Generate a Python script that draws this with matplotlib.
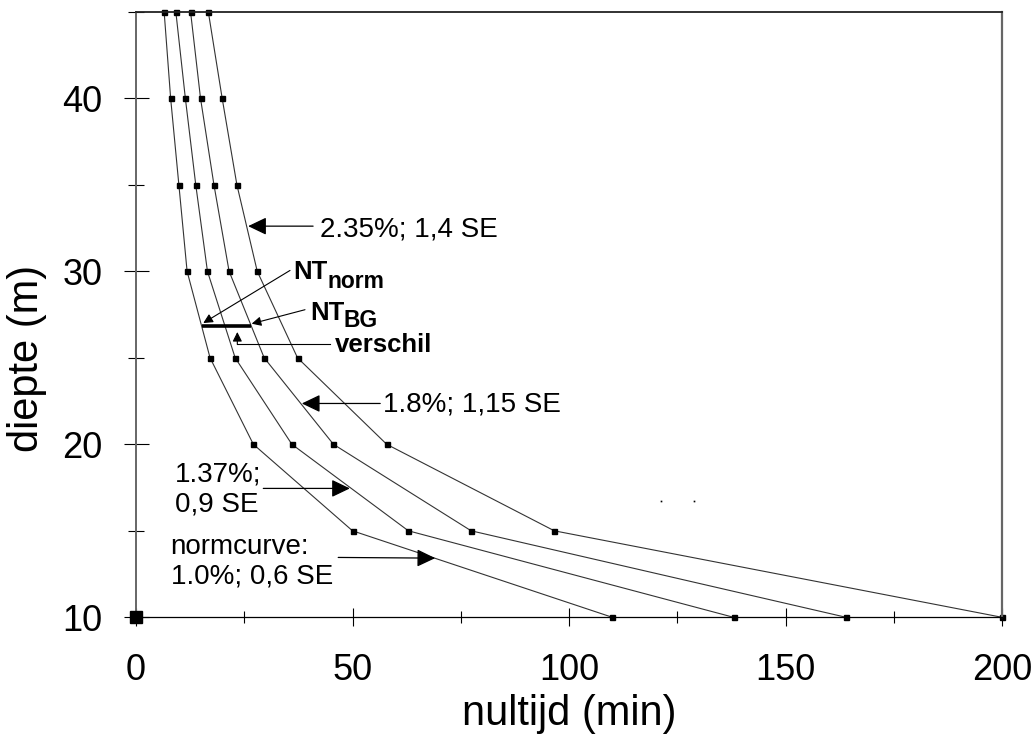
import numpy as np
import matplotlib
matplotlib.use("Agg")
import matplotlib.pyplot as plt

plt.rcParams['font.family'] = ['Liberation Sans', 'DejaVu Sans']

# ---- data ----
depths = [10, 15, 20, 25, 30, 35, 40, 45]
norm_1_0 = [110.0, 50.0, 27.1, 17.1, 11.8, 9.9, 8.0, 6.5]      # normcurve 1.0%; 0,6 SE
curve_1_37 = [138.0, 62.9, 36.0, 22.9, 16.5, 13.8, 11.4, 9.2]   # 1.37%; 0,9 SE
curve_1_8 = [164.0, 77.4, 45.6, 29.6, 21.5, 18.0, 14.9, 12.6]   # 1.8%; 1,15 SE
curve_2_35 = [200.0, 96.6, 57.9, 37.3, 28.0, 23.3, 19.9, 16.7]  # 2.35%; 1,4 SE
origin_x, origin_y = [0], [10]
stray_x, stray_y = [121.3, 128.8], [16.7, 16.7]
verschil_depth = 26.85

x_major = [0, 50, 100, 150, 200]
x_minor = [25, 75, 125, 175]
y_major = [10, 20, 30, 40]
y_minor = [15, 25, 35, 45]

fig = plt.figure(figsize=(10.32, 7.36), dpi=100)
ax = fig.add_axes([136/1032, 1-617.3/736, 866/1032, 605.5/736])

line_kw = dict(color='#333333', lw=0.8, marker='s', ms=3.6, mfc='black', mec='black', clip_on=False)
for xs in (norm_1_0, curve_1_37, curve_1_8, curve_2_35):
    ax.plot(xs, depths, **line_kw)

ax.plot(origin_x, origin_y, 's', color='black', ms=9, clip_on=False, zorder=5)
ax.plot(stray_x, stray_y, 's', color='black', ms=1.2, mew=0)

# verschil bar between normcurve and 1.8% curve
x_left = np.interp(verschil_depth, depths, norm_1_0)
x_right = np.interp(verschil_depth, depths, curve_1_8)
ax.plot([x_left, x_right], [verschil_depth, verschil_depth], color='black', lw=2.6, solid_capstyle='butt')

ax.set_xlim(0, 200)
ax.set_ylim(10, 45)
ax.set_xticks(x_major)
ax.set_xticks(x_minor, minor=True)
ax.set_yticks(y_major)
ax.set_yticks(y_minor, minor=True)
ax.tick_params(axis='x', which='major', direction='inout', length=13, width=0.8, pad=19, labelsize=26)
ax.tick_params(axis='x', which='minor', direction='inout', length=8.5, width=0.8)
ax.tick_params(axis='y', which='major', direction='inout', length=18, width=0.8, pad=15, labelsize=26)
ax.tick_params(axis='y', which='minor', direction='inout', length=12, width=0.8)

ax.spines['left'].set_color('#666666')
ax.spines['left'].set_linewidth(1.4)
ax.spines['right'].set_color('#666666')
ax.spines['right'].set_linewidth(1.6)
ax.spines['top'].set_color('#222222')
ax.spines['top'].set_linewidth(1.3)
ax.spines['bottom'].set_color('black')
ax.spines['bottom'].set_linewidth(0.9)

ax.set_xlabel('nultijd (min)', fontsize=30)
ax.xaxis.label.set_va('baseline')
ax.xaxis.set_label_coords(0.5, -0.1779)
ax.set_ylabel('diepte (m)', fontsize=30)
ax.yaxis.label.set_va('center')
ax.yaxis.set_label_coords(-0.1259, 0.4274)

big_arrow = dict(arrowstyle='-|>,head_length=0.94,head_width=0.45', color='black', lw=0.9, mutation_scale=12,
                 shrinkA=0, shrinkB=0)
small_arrow = dict(arrowstyle='-|>,head_length=0.7,head_width=0.35', color='black', lw=0.8, mutation_scale=8,
                   shrinkA=0, shrinkB=0)

fs = 20
# 2.35%
ax.annotate('', xy=(25.9, 32.61), xytext=(40.9, 32.61), arrowprops=big_arrow)
ax.text(42.5, 32.01, '2.35%; 1,4 SE', fontsize=fs, va='baseline', ha='left')
# 1.8%
ax.annotate('', xy=(38.3, 22.36), xytext=(56.4, 22.36), arrowprops=big_arrow)
ax.text(57.1, 21.87, '1.8%; 1,15 SE', fontsize=fs, va='baseline', ha='left')
# 1.37%
ax.annotate('', xy=(49.4, 17.45), xytext=(29.4, 17.45), arrowprops=big_arrow)
ax.text(9.0, 16.10, '1.37%;\n0,9 SE', fontsize=fs, va='baseline', ha='left', linespacing=1.2)
# normcurve
ax.annotate('', xy=(69.1, 13.42), xytext=(46.7, 13.46), arrowprops=big_arrow)
ax.text(8.0, 11.96, 'normcurve:\n1.0%; 0,6 SE', fontsize=fs, va='baseline', ha='left', linespacing=1.15)

# NT_norm
ax.annotate('', xy=(15.54, 27.01), xytext=(35.57, 30.05), arrowprops=small_arrow)
ax.text(36.3, 29.53, 'NT', fontsize=18.5, fontweight='bold', va='baseline', ha='left')
ax.text(44.2, 29.05, 'norm', fontsize=16.5, fontweight='bold', va='baseline', ha='left')
# NT_BG
ax.annotate('', xy=(26.72, 26.97), xytext=(39.03, 27.78), arrowprops=small_arrow)
ax.text(40.18, 27.21, 'NT', fontsize=18.5, fontweight='bold', va='baseline', ha='left')
ax.text(48.0, 26.78, 'BG', fontsize=16.5, fontweight='bold', va='baseline', ha='left')
# verschil
ax.plot([44.8, 23.4], [25.78, 25.78], color='black', lw=0.8)
ax.annotate('', xy=(23.4, 26.49), xytext=(23.4, 25.78), arrowprops=small_arrow)
ax.text(45.96, 25.33, 'verschil', fontsize=18.5, fontweight='bold', va='baseline', ha='left')

fig.savefig('out.png', dpi=100)
